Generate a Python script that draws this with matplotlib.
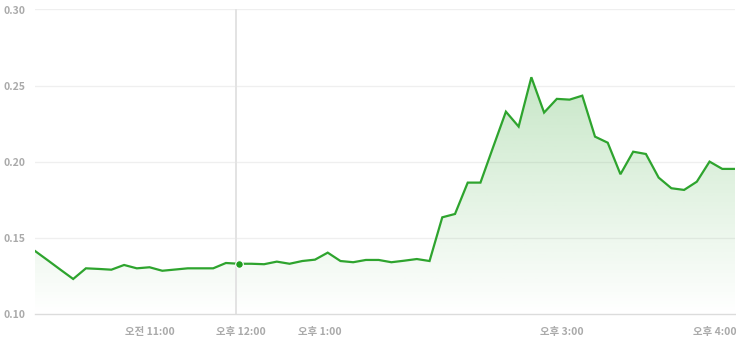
import matplotlib
matplotlib.use("Agg")
import matplotlib.pyplot as plt
import numpy as np

plt.rcParams['font.family'] = ['Noto Sans CJK KR', 'DejaVu Sans']

# Data (evenly spaced intraday samples)
values = [
    0.1414, 0.1353, 0.1291, 0.1230, 0.1300, 0.1296, 0.1291, 0.1322, 0.1300, 0.1307,
    0.1284, 0.1292, 0.1300, 0.1300, 0.1300, 0.1335, 0.1330, 0.1330, 0.1327, 0.1344,
    0.1330, 0.1348, 0.1357, 0.1403, 0.1348, 0.1340, 0.1355, 0.1355, 0.1340, 0.1350,
    0.1361, 0.1348, 0.1635, 0.1657, 0.1863, 0.1863, 0.2097, 0.2329, 0.2231, 0.2555,
    0.2323, 0.2413, 0.2408, 0.2434, 0.2165, 0.2125, 0.1918, 0.2066, 0.2051, 0.1896,
    0.1826, 0.1815, 0.1869, 0.2001, 0.1953, 0.1953,
]
x_tick_pos = [9.06, 16.15, 22.34, 41.37, 53.43]
x_tick_labels = ['오전 11:00', '오후 12:00', '오후 1:00', '오후 3:00', '오후 4:00']
y_ticks = [0.10, 0.15, 0.20, 0.25, 0.30]
y_tick_labels = ['0.10', '0.15', '0.20', '0.25', '0.30']
marker_index = 16
vline_pos = 15.76

x = np.arange(len(values))
y = np.array(values)

fig = plt.figure(figsize=(7.36, 3.40), dpi=100)
ax = fig.add_axes([35/736, 26/340, 700/736, 304.5/340])
ax.set_xlim(0, len(values) - 1)
ax.set_ylim(0.10, 0.30)

# grid
for t in y_ticks[1:]:
    ax.axhline(t, color='#efefef', lw=0.9, zorder=0)

# gradient fill
ymax = y.max()
grad = np.linspace(0, 1, 256).reshape(-1, 1)
rgba = np.zeros((256, 1, 4))
rgba[..., 0] = 70/255
rgba[..., 1] = 175/255
rgba[..., 2] = 70/255
rgba[..., 3] = 0.30 * grad
im = ax.imshow(rgba, extent=[0, len(values) - 1, 0.10, ymax], origin='lower',
               aspect='auto', zorder=1, interpolation='bilinear')
poly = ax.fill_between(x, y, 0.10, color='none', lw=0)
im.set_clip_path(poly.get_paths()[0], transform=ax.transData)

ax.axvline(vline_pos, color='#e3e3e3', lw=1.4, zorder=2)
ax.plot(x, y, color='#2ea42e', lw=1.6, zorder=3, solid_joinstyle='miter')
ax.plot([marker_index], [values[marker_index]], 'o', color='#1f9e1f',
        markersize=5.5, markeredgecolor='white', markeredgewidth=0.8, zorder=4)

for s in ['top', 'right', 'left']:
    ax.spines[s].set_visible(False)
ax.spines['bottom'].set_color('#dcdcdc')
ax.spines['bottom'].set_linewidth(1.0)

ax.set_yticks(y_ticks)
ax.set_yticklabels(y_tick_labels)
ax.set_xticks(x_tick_pos)
ax.set_xticklabels(x_tick_labels)
ax.tick_params(axis='both', length=0, colors='#aaaaaa', labelsize=7.5)
ax.tick_params(axis='y', pad=23)
ax.tick_params(axis='x', pad=9)
for lbl in ax.get_yticklabels():
    lbl.set_horizontalalignment('left')
    lbl.set_fontweight('bold')
for lbl in ax.get_xticklabels():
    lbl.set_fontweight('bold')

fig.savefig('out.png', dpi=100, facecolor='white')
